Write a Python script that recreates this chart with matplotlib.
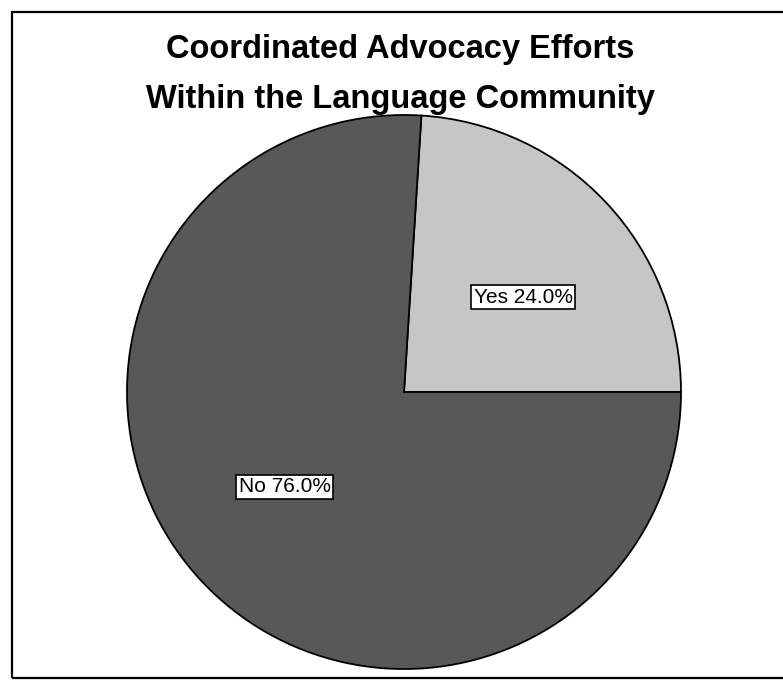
import matplotlib
matplotlib.use("Agg")
import numpy as np
import matplotlib.pyplot as plt
from matplotlib.patches import Rectangle

title_lines = ["Coordinated Advocacy Efforts", "Within the Language Community"]
categories = ["Yes", "No"]
values = [24.0, 76.0]
colors = ["#c6c6c6", "#585858"]

plt.rcParams['font.family'] = ['Liberation Sans', 'DejaVu Sans']

W, H = 783, 681
fig = plt.figure(figsize=(W / 100, H / 100), dpi=100)
fig.patch.set_facecolor("white")

cx, cy, r = 404, 392, 277
ax = fig.add_axes([(cx - r) / W, (H - cy - r) / H, 2 * r / W, 2 * r / H])

labels = [f"{c} {v:.1f}%" for c, v in zip(categories, values)]
wedges, texts = ax.pie(values, colors=colors, startangle=0, counterclock=True,
                       labels=labels, labeldistance=0.55,
                       wedgeprops=dict(edgecolor="black", linewidth=1.3))
for w, t in zip(wedges, texts):
    mid = np.deg2rad((w.theta1 + w.theta2) / 2 - 4.8)
    t.set_position((0.55 * np.cos(mid), 0.55 * np.sin(mid)))
    t.set_ha("center")
    t.set_va("center")
    t.set_fontsize(15)
    t.set_bbox(dict(facecolor="white", edgecolor="black", linewidth=1.2,
                    boxstyle="square,pad=0.12"))
ax.set_xlim(-1, 1)
ax.set_ylim(-1, 1)
ax.set_aspect("equal")
ax.axis("off")

fig.text(400 / W, 1 - 58 / H, title_lines[0], ha="center", va="baseline",
         fontsize=23.5, fontweight="bold")
fig.text(400 / W, 1 - 108 / H, title_lines[1], ha="center", va="baseline",
         fontsize=23.5, fontweight="bold")

fig.patches.append(Rectangle((12 / W, 3 / H), 1.0, (H - 15) / H, transform=fig.transFigure,
                             fill=False, edgecolor="black", linewidth=1.6))

fig.savefig("out.png", dpi=100)
